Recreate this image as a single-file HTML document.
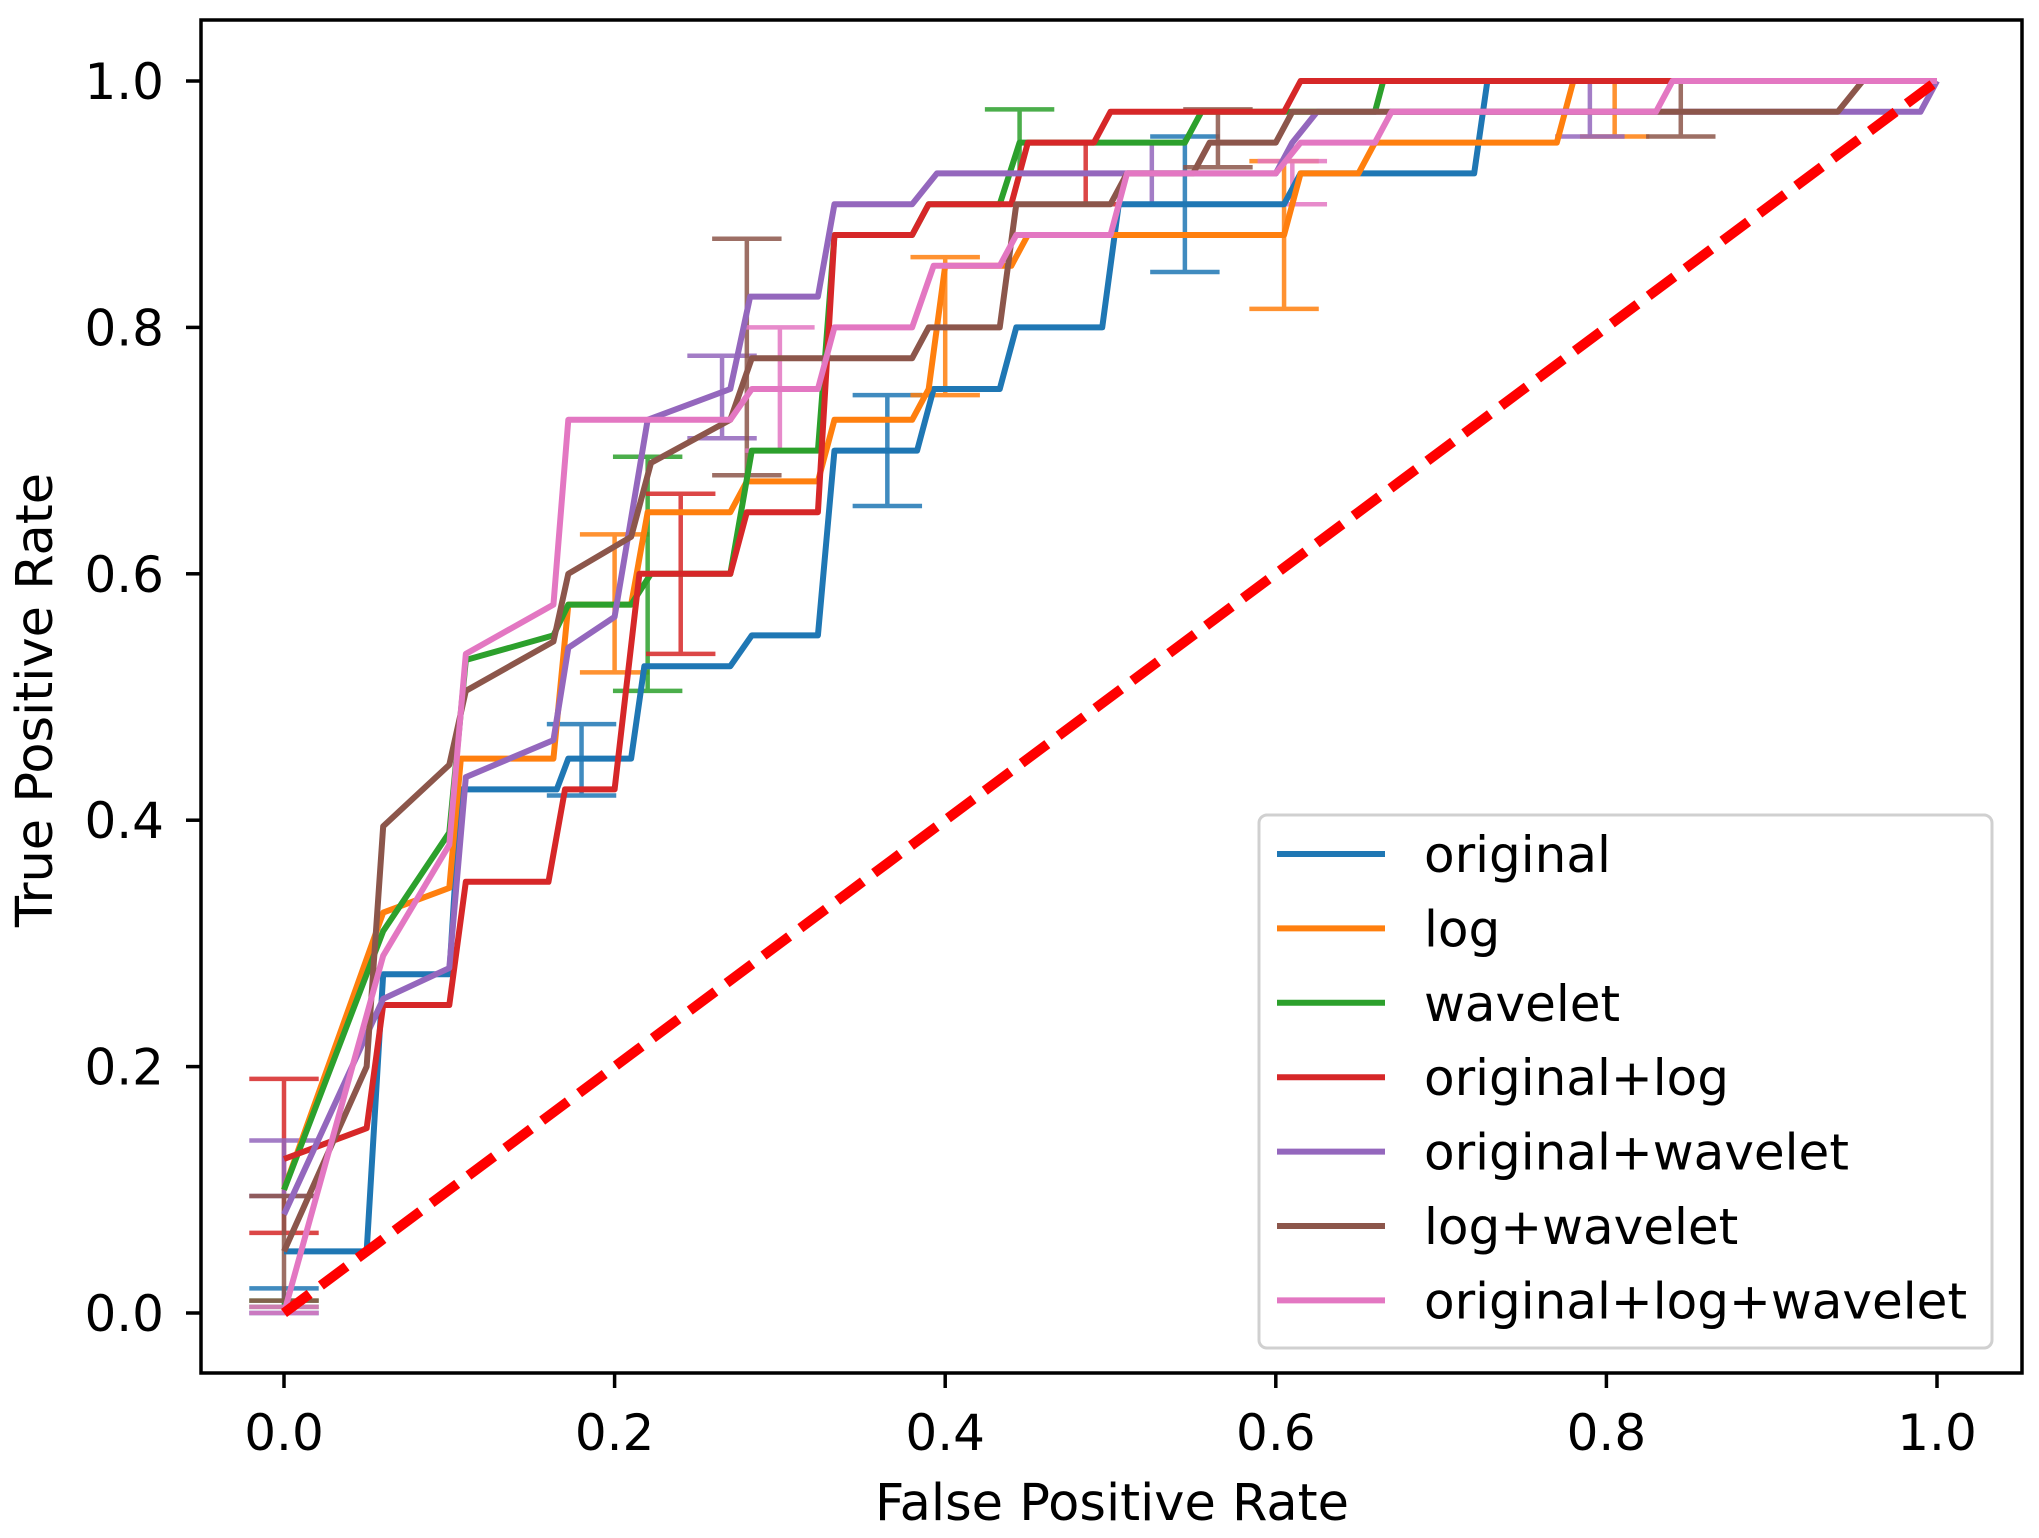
<!DOCTYPE html>
<html><head><meta charset="utf-8">
<style>
html,body{margin:0;padding:0;background:#fff;}
svg{display:block;font-family:"DejaVu Sans","Liberation Sans",sans-serif;}
</style></head>
<body>
<svg id="chart" width="2039" height="1538" viewBox="0 0 2039 1538" xmlns="http://www.w3.org/2000/svg">
<rect x="0" y="0" width="2039" height="1538" fill="#fff"/>
<g id="plot"></g>
<rect x="201" y="20" width="1821" height="1353" fill="none" stroke="#000" stroke-width="3.5"/>
<g id="ticks"></g>
<text x="1112" y="1520" font-size="51" text-anchor="middle">False Positive Rate</text>
<text transform="translate(52,700) rotate(-90)" font-size="51" text-anchor="middle">True Positive Rate</text>
<g id="legend"></g>
</svg>
<script>
const seriesNames = ["original","log","wavelet","original+log","original+wavelet","log+wavelet","original+log+wavelet"];
const seriesColors = ["#1f77b4","#ff7f0e","#2ca02c","#d62728","#9467bd","#8c564b","#e377c2"];
const sOriginal = [[0,0.05],[0.05,0.05],[0.06,0.275],[0.1,0.275],[0.107,0.425],[0.165,0.425],[0.172,0.45],[0.21,0.45],[0.218,0.525],[0.27,0.525],[0.283,0.55],[0.323,0.55],[0.333,0.7],[0.383,0.7],[0.393,0.75],[0.433,0.75],[0.443,0.8],[0.495,0.8],[0.505,0.9],[0.605,0.9],[0.615,0.925],[0.72,0.925],[0.728,1.0],[1,1]];
const sLog = [[0,0.1],[0.06,0.325],[0.1,0.345],[0.107,0.45],[0.163,0.45],[0.172,0.575],[0.21,0.575],[0.22,0.65],[0.27,0.65],[0.28,0.675],[0.323,0.675],[0.333,0.725],[0.38,0.725],[0.39,0.75],[0.4,0.85],[0.44,0.85],[0.45,0.875],[0.605,0.875],[0.615,0.925],[0.65,0.925],[0.66,0.95],[0.77,0.95],[0.78,1.0],[1,1]];
const sWavelet = [[0,0.1],[0.06,0.31],[0.1,0.39],[0.11,0.53],[0.163,0.55],[0.172,0.575],[0.21,0.575],[0.222,0.6],[0.27,0.6],[0.283,0.7],[0.323,0.7],[0.333,0.875],[0.38,0.875],[0.39,0.9],[0.433,0.9],[0.445,0.95],[0.545,0.95],[0.555,0.975],[0.66,0.975],[0.665,1.0],[1,1]];
const sOrigLog = [[0,0.125],[0.05,0.15],[0.06,0.25],[0.1,0.25],[0.11,0.35],[0.16,0.35],[0.17,0.425],[0.2,0.425],[0.215,0.6],[0.27,0.6],[0.28,0.65],[0.323,0.65],[0.333,0.875],[0.38,0.875],[0.39,0.9],[0.44,0.9],[0.45,0.95],[0.49,0.95],[0.5,0.975],[0.605,0.975],[0.615,1.0],[1,1]];
const sOrigWav = [[0,0.08],[0.06,0.255],[0.1,0.28],[0.11,0.435],[0.163,0.465],[0.172,0.54],[0.2,0.565],[0.22,0.725],[0.27,0.75],[0.282,0.825],[0.323,0.825],[0.333,0.9],[0.38,0.9],[0.395,0.925],[0.6,0.925],[0.61,0.95],[0.625,0.975],[0.99,0.975],[1,1]];
const sLogWav = [[0,0.05],[0.05,0.2],[0.06,0.395],[0.1,0.445],[0.11,0.505],[0.163,0.545],[0.172,0.6],[0.21,0.63],[0.222,0.69],[0.27,0.725],[0.283,0.775],[0.38,0.775],[0.39,0.8],[0.433,0.8],[0.443,0.9],[0.5,0.9],[0.51,0.925],[0.55,0.925],[0.56,0.95],[0.6,0.95],[0.61,0.975],[0.94,0.975],[0.955,1.0],[1,1]];
const sAll = [[0,0.0],[0.06,0.29],[0.1,0.38],[0.11,0.535],[0.163,0.575],[0.172,0.725],[0.27,0.725],[0.283,0.75],[0.323,0.75],[0.333,0.8],[0.38,0.8],[0.393,0.85],[0.433,0.85],[0.443,0.875],[0.5,0.875],[0.51,0.925],[0.6,0.925],[0.615,0.95],[0.66,0.95],[0.67,0.975],[0.83,0.975],[0.84,1.0],[1,1]];
const seriesData = [sOriginal,sLog,sWavelet,sOrigLog,sOrigWav,sLogWav,sAll];
// error bars: [seriesIndex, x, low, high]
const errorBars = [[0,0,0.0,0.02],[0,0.18,0.42,0.478],[0,0.365,0.655,0.745],[0,0.545,0.845,0.955],
[1,0.2,0.52,0.632],[1,0.4,0.745,0.857],[1,0.605,0.815,0.935],[1,0.805,0.955,1.0],
[2,0.22,0.505,0.695],[2,0.445,0.925,0.977],[2,0,0.005,0.01],
[3,0,0.065,0.19],[3,0.24,0.535,0.665],[3,0.485,0.9,0.95],
[4,0,0.095,0.14],[4,0.265,0.71,0.777],[4,0.525,0.9,0.95],[4,0.79,0.955,1.0],
[5,0,0.01,0.095],[5,0.28,0.68,0.872],[5,0.565,0.93,0.977],[5,0.845,0.955,1.0],
[6,0,0.0,0.005],[6,0.3,0.7,0.8],[6,0.61,0.9,0.935]];
const xTicks = [0,0.2,0.4,0.6,0.8,1.0];
const yTicks = [0,0.2,0.4,0.6,0.8,1.0];
const xTickLabels = ["0.0","0.2","0.4","0.6","0.8","1.0"];
const yTickLabels = ["0.0","0.2","0.4","0.6","0.8","1.0"];
const chanceLine = [[0,0],[1,1]];

const X0=284, X1=1937, Y0=1313, Y1=81;
function sx(v){return X0+(X1-X0)*v;}
function sy(v){return Y0+(Y1-Y0)*v;}
const NS="http://www.w3.org/2000/svg";
function mk(tag,attrs,parent){const e=document.createElementNS(NS,tag);for(const k in attrs)e.setAttribute(k,attrs[k]);parent.appendChild(e);return e;}
const plot=document.getElementById('plot');
const capHalf=0.021;
errorBars.forEach(function(b){
  const g=mk('g',{stroke:seriesColors[b[0]],'stroke-width':4.5,opacity:0.85},plot);
  
  
  mk('line',{x1:sx(b[1]),x2:sx(b[1]),y1:sy(b[2]),y2:sy(b[3])},g);
  mk('line',{x1:sx(b[1]-capHalf),x2:sx(b[1]+capHalf),y1:sy(b[2]),y2:sy(b[2])},g);
  mk('line',{x1:sx(b[1]-capHalf),x2:sx(b[1]+capHalf),y1:sy(b[3]),y2:sy(b[3])},g);
});
seriesData.forEach(function(d,i){
  const p=mk('polyline',{points:d.map(function(q){return sx(q[0])+','+sy(q[1]);}).join(' '),fill:'none',stroke:seriesColors[i],'stroke-width':6,'stroke-linejoin':'round'},plot);
  
  
});
const ch=mk('line',{x1:sx(chanceLine[0][0]),y1:sy(chanceLine[0][1]),x2:sx(chanceLine[1][0]),y2:sy(chanceLine[1][1]),stroke:'#ff0000','stroke-width':10,'stroke-dasharray':'32 14'},plot);


const ticks=document.getElementById('ticks');
xTicks.forEach(function(v,i){
  const l=mk('line',{x1:sx(v),x2:sx(v),y1:1373,y2:1388,stroke:'#000','stroke-width':3.5},ticks);
  
  
  const t=mk('text',{x:sx(v),y:1450,'font-size':50,'text-anchor':'middle'},ticks);
  t.textContent=xTickLabels[i];
  
  
});
yTicks.forEach(function(v,i){
  const l=mk('line',{x1:186,x2:201,y1:sy(v),y2:sy(v),stroke:'#000','stroke-width':3.5},ticks);
  
  
  const t=mk('text',{x:164,y:sy(v)+18,'font-size':50,'text-anchor':'end'},ticks);
  t.textContent=yTickLabels[i];
  
  
});
const leg=document.getElementById('legend');
const lb=mk('rect',{x:1259,y:815,width:733,height:533,rx:8,fill:'#fff','fill-opacity':0.85,stroke:'#d0d0d0','stroke-width':3},leg);


seriesNames.forEach(function(n,i){
  const yy=854+i*74.4;
  const g=mk('g',{},leg);
  
  
  mk('line',{x1:1277,x2:1385,y1:yy,y2:yy,stroke:seriesColors[i],'stroke-width':6},g);
  const t=mk('text',{x:1424,y:yy+18,'font-size':50},g);
  t.textContent=n;
});
</script>
</body></html>
